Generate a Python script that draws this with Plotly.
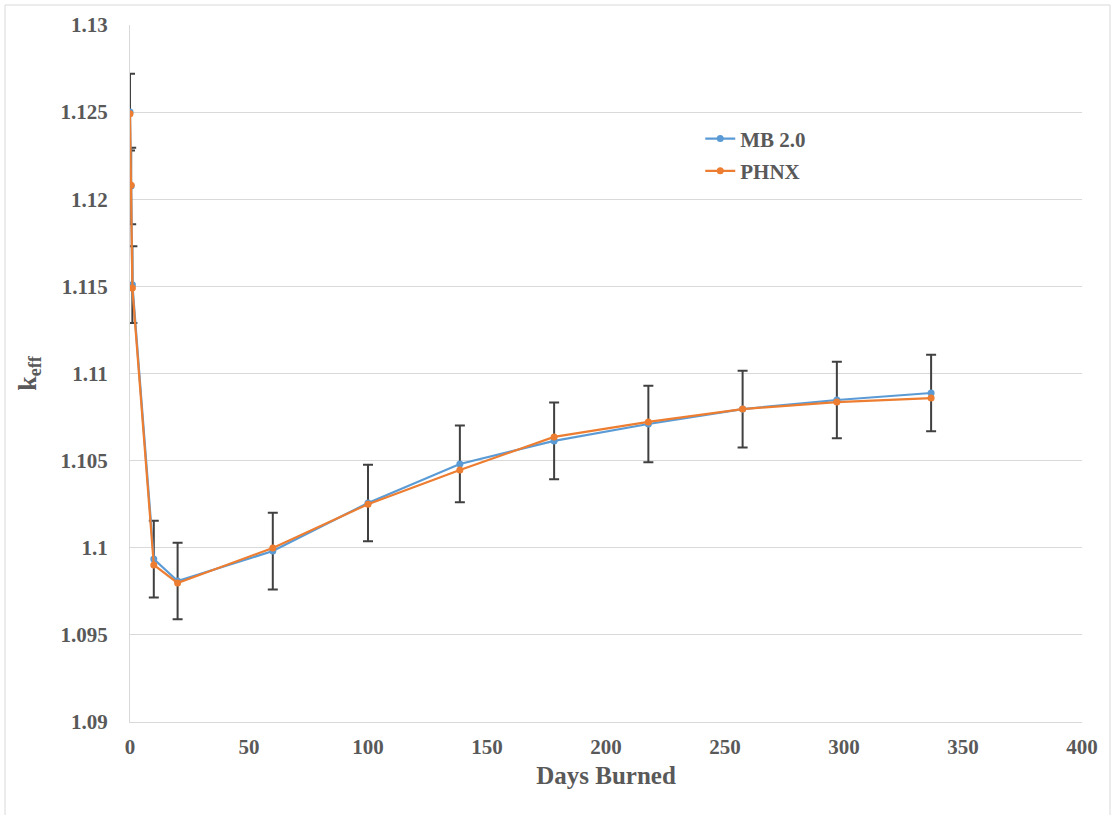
import plotly.graph_objects as go

days = [0, 0.5, 1, 10, 20, 60, 100, 138.6, 178.2, 217.8, 257.4, 297, 336.6]
mb20 = [1.1250, 1.12076, 1.11510, 1.09935, 1.09809, 1.09981, 1.10257, 1.10481,
        1.10613, 1.10710, 1.10796, 1.10848, 1.10888]
phnx = [1.1249, 1.12080, 1.11490, 1.09901, 1.09798, 1.09999, 1.10250, 1.10446,
        1.10636, 1.10722, 1.10796, 1.10836, 1.10859]
mb_err = [0.0022] * len(days)

yticks = [1.09, 1.095, 1.1, 1.105, 1.11, 1.115, 1.12, 1.125, 1.13]
ytick_text = ["1.09", "1.095", "1.1", "1.105", "1.11", "1.115", "1.12", "1.125", "1.13"]
xticks = [0, 50, 100, 150, 200, 250, 300, 350, 400]

BLUE = "#5B9BD5"
ORANGE = "#ED7D31"
TXT = "#595959"
FONT = "Liberation Serif"

fig = go.Figure()
fig.add_trace(go.Scatter(
    x=days, y=mb20, name="<b>MB 2.0</b>", mode="lines+markers", legendgroup="mb",
    line=dict(color=BLUE, width=2.2), marker=dict(color=BLUE, size=7),
    error_y=dict(type="data", array=mb_err, visible=True, color="#404040",
                 thickness=2, width=5),
))
fig.add_trace(go.Scatter(
    x=days, y=phnx, name="<b>PHNX</b>", mode="lines+markers", legendgroup="ph",
    line=dict(color=ORANGE, width=2.2), marker=dict(color=ORANGE, size=7),
))

fig.update_layout(
    width=1115, height=815,
    margin=dict(l=130, r=33, t=25, b=93),
    paper_bgcolor="white", plot_bgcolor="white",
    font=dict(family=FONT, color=TXT, size=21),
    showlegend=True,
    legend=dict(x=0.599, y=0.866, xanchor="left", yanchor="top",
                bgcolor="rgba(0,0,0,0)", font=dict(family=FONT, size=21, color=TXT),
                tracegroupgap=2, itemwidth=30),
    xaxis=dict(range=[0, 400], tickvals=xticks, showgrid=False, zeroline=False,
               showline=True, linecolor="#D9D9D9", linewidth=1, ticks="",
               tickfont=dict(family=FONT, size=21, color=TXT, weight="bold"),
               ticklabelstandoff=6,
               title=dict(text="<b>Days Burned</b>", font=dict(family=FONT, size=25, color=TXT),
                          standoff=8)),
    yaxis=dict(range=[1.09, 1.13], tickvals=yticks, ticktext=ytick_text,
               showgrid=True, gridcolor="#D9D9D9", gridwidth=1, zeroline=False,
               showline=True, linecolor="#D9D9D9", linewidth=1, ticks="",
               tickfont=dict(family=FONT, size=21, color=TXT, weight="bold"),
               ticklabelstandoff=17,
               title=dict(text="<b>k<sub>eff</sub></b>", font=dict(family=FONT, size=26, color=TXT),
                          standoff=16)),
    shapes=[dict(type="rect", xref="paper", yref="paper",
                 x0=(5 - 130) / 952, x1=(1110 - 130) / 952,
                 y0=(722 - 818) / 697, y1=1 + (25 - 5) / 697,
                 line=dict(color="#D9D9D9", width=1), fillcolor="rgba(0,0,0,0)", layer="below")],
)

fig.write_html("out.html")
